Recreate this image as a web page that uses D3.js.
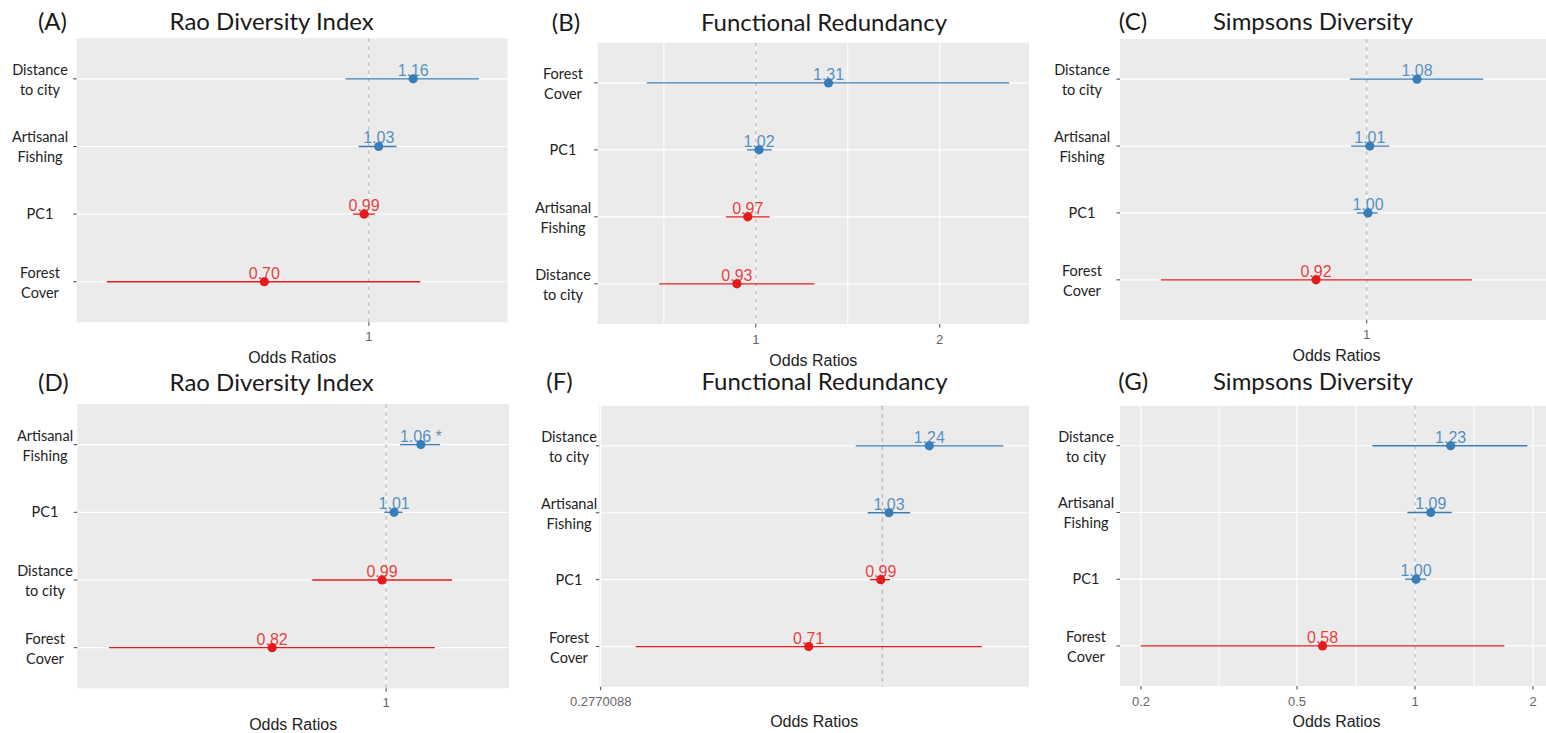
<!DOCTYPE html>
<html><head><meta charset="utf-8">
<script src="https://cdn.jsdelivr.net/npm/d3@7"></script>
<style>body{margin:0;background:#fff} svg{display:block}</style>
</head><body><svg id="c" width="1546" height="733"></svg>
<script>
// ---------------- DATA ----------------
const letters = ["(A)", "(B)", "(C)", "(D)", "(F)", "(G)"];
const titles = ["Rao Diversity Index", "Functional Redundancy", "Simpsons Diversity",
                "Rao Diversity Index", "Functional Redundancy", "Simpsons Diversity"];

const catsA = ["Distance|to city", "Artisanal|Fishing", "PC1", "Forest|Cover"];
const estA  = [1.162, 1.034, 0.984, 0.702];
const loA   = [0.924, 0.966, 0.948, 0.412];
const hiA   = [1.452, 1.098, 1.020, 1.190];
const lblA  = ["1.16", "1.03", "0.99", "0.70"];
const domA  = [0.372, 1.6];
const ticksA = [1];

const catsB = ["Forest|Cover", "PC1", "Artisanal|Fishing", "Distance|to city"];
const estB  = [1.315, 1.012, 0.970, 0.931];
const loB   = [0.663, 0.967, 0.894, 0.695];
const hiB   = [2.598, 1.062, 1.053, 1.247];
const lblB  = ["1.31", "1.02", "0.97", "0.93"];
const domB  = [0.551, 2.80];
const ticksB = [1, 2];

const catsC = ["Distance|to city", "Artisanal|Fishing", "PC1", "Forest|Cover"];
const estC  = [1.085, 1.005, 1.002, 0.921];
const loC   = [0.973, 0.975, 0.984, 0.716];
const hiC   = [1.208, 1.037, 1.018, 1.186];
const lblC  = ["1.08", "1.01", "1.00", "0.92"];
const domC  = [0.670, 1.353];
const ticksC = [1];

const catsD = ["Artisanal|Fishing", "PC1", "Distance|to city", "Forest|Cover"];
const estD  = [1.062, 1.014, 0.993, 0.821];
const loD   = [1.0245, 0.997, 0.880, 0.619];
const hiD   = [1.098, 1.029, 1.121, 1.088];
const lblD  = ["1.06 *", "1.01", "0.99", "0.82"];
const domD  = [0.586, 1.237];
const ticksD = [1];

const catsF = ["Distance|to city", "Artisanal|Fishing", "PC1", "Forest|Cover"];
const estF  = [1.239, 1.031, 0.993, 0.715];
const loF   = [0.886, 0.936, 0.945, 0.325];
const hiF   = [1.737, 1.135, 1.036, 1.574];
const lblF  = ["1.24", "1.03", "0.99", "0.71"];
const domF  = [0.2753, 1.952];
const ticksF = [0.2770088];

const catsG = ["Distance|to city", "Artisanal|Fishing", "PC1", "Forest|Cover"];
const estG  = [1.233, 1.097, 1.006, 0.581];
const loG   = [0.778, 0.956, 0.943, 0.1996];
const hiG   = [1.934, 1.240, 1.067, 1.690];
const lblG  = ["1.23", "1.09", "1.00", "0.58"];
const domG  = [0.1768, 2.249];
const ticksG = [0.2, 0.5, 1, 2];

const panelData = [
  [catsA, estA, loA, hiA, lblA, domA, ticksA],
  [catsB, estB, loB, hiB, lblB, domB, ticksB],
  [catsC, estC, loC, hiC, lblC, domC, ticksC],
  [catsD, estD, loD, hiD, lblD, domD, ticksD],
  [catsF, estF, loF, hiF, lblF, domF, ticksF],
  [catsG, estG, loG, hiG, lblG, domG, ticksG]
];

// ---------------- LAYOUT ----------------
const layout = [
  {L:76.7,  R:507.7, T:38.3,  B:322.3, labX:40,   titleX:271.7, titleY:30,   letX:52.5,  tickY:341, axY:363},
  {L:597.7, R:1029,  T:42.7,  B:324,   labX:563,  titleX:824,   titleY:30.7, letX:566,   tickY:344, axY:366},
  {L:1120,  R:1553,  T:39,    B:320,   labX:1082, titleX:1313,  titleY:30,   letX:1133,  tickY:339, axY:361},
  {L:77.3,  R:509,   T:404,   B:688.3, labX:45,   titleX:271.7, titleY:391,  letX:53.3,  tickY:707, axY:730},
  {L:599.3, R:1029,  T:405.7, B:686.7, labX:569,  titleX:824.5, titleY:390,  letX:559.5, tickY:706, axY:727},
  {L:1120,  R:1553,  T:405.7, B:686,   labX:1086, titleX:1313,  titleY:390,  letX:1133.3,tickY:706, axY:727}
];

const BLUE = "#377eb8", RED = "#e41a1c";
const svg = d3.select("#c");
svg.append("rect").attr("width",1546).attr("height",733).attr("fill","#fff");

panelData.forEach((pd, i) => {
  const [cats, est, lo, hi, lbl, dom, ticks] = pd;
  const lay = layout[i];
  const g = svg.append("g");
  const x = d3.scaleLog().domain(dom).range([lay.L, lay.R]);
  const y = d3.scalePoint().domain(cats).range([lay.T, lay.B]).padding(0.6);

  // panel background
  g.append("rect").attr("x", lay.L).attr("y", lay.T)
    .attr("width", lay.R - lay.L).attr("height", lay.B - lay.T).attr("fill", "#ebebeb");

  // minor vertical grid (log midpoints)
  const lt = ticks.map(t => Math.log10(t));
  let minor = [];
  if (lt.length > 1) {
    for (let k = 0; k < lt.length - 1; k++) minor.push((lt[k] + lt[k+1]) / 2);
    minor.unshift(lt[0] - (lt[1] - lt[0]) / 2);
    minor.push(lt[lt.length-1] + (lt[lt.length-1] - lt[lt.length-2]) / 2);
  }
  minor = minor.map(v => Math.pow(10, v)).filter(v => v > dom[0] && v < dom[1]);
  g.selectAll(".mgrid").data(minor).enter().append("line")
    .attr("x1", d => x(d)).attr("x2", d => x(d)).attr("y1", lay.T).attr("y2", lay.B)
    .attr("stroke", "#fff").attr("stroke-width", 1);
  g.selectAll(".vgrid").data(ticks).enter().append("line")
    .attr("x1", d => x(d)).attr("x2", d => x(d)).attr("y1", lay.T).attr("y2", lay.B)
    .attr("stroke", "#fff").attr("stroke-width", 1.2);
  // horizontal grid
  g.selectAll(".hgrid").data(cats).enter().append("line")
    .attr("x1", lay.L).attr("x2", lay.R).attr("y1", d => y(d)).attr("y2", d => y(d))
    .attr("stroke", "#fff").attr("stroke-width", 1.2);

  // reference line at 1
  g.append("line").attr("x1", x(1)).attr("x2", x(1)).attr("y1", lay.T).attr("y2", lay.B)
    .attr("stroke", "#a8a8a8").attr("stroke-width", 1).attr("stroke-dasharray", "4,4");

  // y axis ticks
  g.selectAll(".yt").data(cats).enter().append("line")
    .attr("x1", lay.L - 3.5).attr("x2", lay.L).attr("y1", d => y(d)).attr("y2", d => y(d))
    .attr("stroke", "#444").attr("stroke-width", 1);
  // x axis ticks + labels
  g.selectAll(".xt").data(ticks).enter().append("line")
    .attr("x1", d => x(d)).attr("x2", d => x(d)).attr("y1", lay.B).attr("y2", lay.B + 3.5)
    .attr("stroke", "#444").attr("stroke-width", 1);
  g.selectAll(".xl").data(ticks).enter().append("text")
    .attr("x", d => x(d)).attr("y", lay.tickY).attr("text-anchor", "middle")
    .attr("font-family", "Liberation Sans, Arial, sans-serif").attr("font-size", 13)
    .attr("fill", "#666").text(d => String(d));

  // y category labels
  cats.forEach(c => {
    const lines = c.split("|");
    const t = g.append("text").attr("text-anchor", "middle")
      .attr("font-family", "Lato, sans-serif").attr("font-size", 14.5).attr("fill", "#222");
    if (lines.length === 1) {
      t.append("tspan").attr("x", lay.labX).attr("y", y(c) + 5).text(lines[0]);
    } else {
      t.append("tspan").attr("x", lay.labX).attr("y", y(c) - 4).text(lines[0]);
      t.append("tspan").attr("x", lay.labX).attr("y", y(c) + 16).text(lines[1]);
    }
  });

  // error bars, points, labels
  cats.forEach((c, k) => {
    const col = est[k] > 1 ? BLUE : RED;
    g.append("line").attr("x1", x(lo[k])).attr("x2", x(hi[k]))
      .attr("y1", y(c)).attr("y2", y(c)).attr("stroke", col).attr("stroke-width", 1.3);
    g.append("circle").attr("cx", x(est[k])).attr("cy", y(c)).attr("r", 4.6).attr("fill", col);
    g.append("text").attr("x", x(est[k])).attr("y", y(c) - 3).attr("text-anchor", "middle")
      .attr("font-family", "Liberation Sans, Arial, sans-serif").attr("font-size", 16)
      .attr("fill", col).attr("fill-opacity", 0.85).text(lbl[k]);
  });

  // axis title
  g.append("text").attr("x", (lay.L + lay.R) / 2).attr("y", lay.axY).attr("text-anchor", "middle")
    .attr("font-family", "Liberation Sans, Arial, sans-serif").attr("font-size", 16)
    .attr("fill", "#222").text("Odds Ratios");

  // title and panel letter
  g.append("text").attr("x", lay.titleX).attr("y", lay.titleY).attr("text-anchor", "middle")
    .attr("font-family", "Lato, sans-serif").attr("font-size", 24).attr("fill", "#1a1a1a")
    .text(titles[i]);
  g.append("text").attr("x", lay.letX).attr("y", lay.titleY).attr("text-anchor", "middle")
    .attr("font-family", "Lato, sans-serif").attr("font-size", 24).attr("fill", "#1a1a1a")
    .text(letters[i]);
});
</script>
</body></html>
